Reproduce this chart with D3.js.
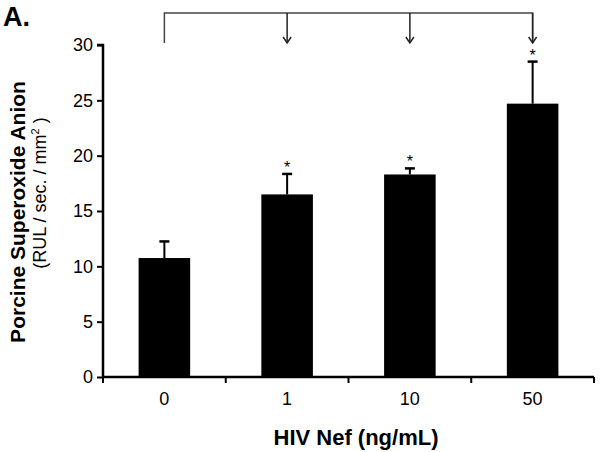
<!DOCTYPE html>
<html><head><meta charset="utf-8">
<script src="https://cdn.jsdelivr.net/npm/d3@7"></script>
<style>body{margin:0;background:#fff}svg{display:block;font-family:"Liberation Sans",Arial,sans-serif}</style>
</head><body>
<script>
const categories = ["0", "1", "10", "50"];
const means = [10.75, 16.5, 18.3, 24.7];
const errors = [1.5, 1.85, 0.55, 3.8];
const significant = [false, true, true, true];
const yTicks = [0, 5, 10, 15, 20, 25, 30];

const W = 600, H = 452;
const svg = d3.select("body").append("svg").attr("width", W).attr("height", H);
const m = {left: 103, right: 6, top: 45, bottom: 75};
const x = d3.scaleBand().domain(categories).range([m.left, W - m.right]).paddingInner(0.58).paddingOuter(0.29);
const y = d3.scaleLinear().domain([0, 30]).range([H - m.bottom, m.top]);

// bars
svg.selectAll("rect.bar").data(categories).join("rect")
  .attr("x", d => x(d)).attr("width", x.bandwidth())
  .attr("y", (d, i) => y(means[i])).attr("height", (d, i) => y(0) - y(means[i]))
  .attr("fill", "#000");

// error bars
const eb = svg.selectAll("g.eb").data(categories).join("g");
eb.append("line")
  .attr("x1", d => x(d) + x.bandwidth() / 2).attr("x2", d => x(d) + x.bandwidth() / 2)
  .attr("y1", (d, i) => y(means[i])).attr("y2", (d, i) => y(means[i] + errors[i]))
  .attr("stroke", "#000").attr("stroke-width", 2);
eb.append("line")
  .attr("x1", d => x(d) + x.bandwidth() / 2 - 5).attr("x2", d => x(d) + x.bandwidth() / 2 + 5)
  .attr("y1", (d, i) => y(means[i] + errors[i])).attr("y2", (d, i) => y(means[i] + errors[i]))
  .attr("stroke", "#000").attr("stroke-width", 2.5);
// asterisks
svg.selectAll("text.star").data(categories.filter((d, i) => significant[i])).join("text")
  .attr("x", d => x(d) + x.bandwidth() / 2)
  .attr("y", d => { const i = categories.indexOf(d); return y(means[i] + errors[i]) - 1; })
  .attr("text-anchor", "middle").style("font-size", "16px").text("*");

// axes
const yAxis = svg.append("g").attr("transform", `translate(${m.left},0)`)
  .call(d3.axisLeft(y).tickValues(yTicks).tickSize(6).tickPadding(4));
yAxis.attr("font-size", null).attr("font-family", null);
yAxis.select(".domain").attr("stroke-width", 2.5).attr("d", `M-6,${y(30)}H0V${y(0)}`);
yAxis.selectAll(".tick line").attr("stroke-width", 2);
yAxis.selectAll("text").style("font-size", "18px").attr("fill", "#000");

const xAxis = svg.append("g").attr("transform", `translate(0,${y(0)})`);
xAxis.append("line").attr("x1", m.left).attr("x2", W - m.right).attr("stroke", "#000").attr("stroke-width", 2.5);
const bounds = categories.map(d => x(d) - x.step() * x.paddingInner() / 2).concat([W - m.right]);
xAxis.selectAll("line.tk").data(bounds).join("line")
  .attr("x1", d => d).attr("x2", d => d).attr("y1", 0).attr("y2", 6)
  .attr("stroke", "#000").attr("stroke-width", 2);
xAxis.selectAll("text").data(categories).join("text")
  .attr("x", d => x(d) + x.bandwidth() / 2).attr("y", 28)
  .attr("text-anchor", "middle").style("font-size", "18px").text(d => d);

// axis titles
svg.append("text").attr("x", 356).attr("y", 445).attr("text-anchor", "middle")
  .style("font-size", "22px").attr("font-weight", "bold").text("HIV Nef (ng/mL)");
svg.append("text").attr("transform", "translate(25,212) rotate(-90)").attr("text-anchor", "middle")
  .style("font-size", "21px").attr("font-weight", "bold").text("Porcine Superoxide Anion");
const t2 = svg.append("text").attr("transform", "translate(46,193) rotate(-90)").attr("text-anchor", "middle")
  .style("font-size", "18px");
t2.append("tspan").text("(RUL / sec. / mm");
t2.append("tspan").style("font-size", "11px").attr("dy", -7).text("2");
t2.append("tspan").attr("dy", 7).text(" )");

// panel label
svg.append("text").attr("x", 3).attr("y", 26).style("font-size", "27px").attr("font-weight", "bold").text("A.");

// comparison bracket
const cx = d => x(d) + x.bandwidth() / 2;
const by = 13, legEnd = 43;
svg.append("path").attr("d", `M${cx("0")},${legEnd}V${by}H${cx("50")}V${legEnd}`)
  .attr("fill", "none").attr("stroke", "#444").attr("stroke-width", 1.5);
categories.slice(1).forEach(d => {
  svg.append("line").attr("x1", cx(d)).attr("x2", cx(d)).attr("y1", by).attr("y2", legEnd)
    .attr("stroke", "#222").attr("stroke-width", 1.5);
  svg.append("path").attr("d", `M${cx(d) - 4},${legEnd - 6}L${cx(d)},${legEnd}L${cx(d) + 4},${legEnd - 6}`)
    .attr("fill", "none").attr("stroke", "#222").attr("stroke-width", 1.5);
});
</script>
</body></html>
